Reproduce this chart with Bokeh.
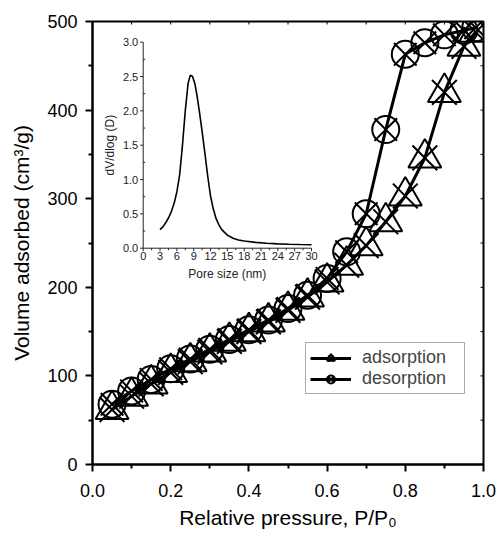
import math
from bokeh.plotting import figure
from bokeh.models import Range1d, FixedTicker, Legend, LegendItem, PrintfTickFormatter
from bokeh.core.properties import value
from bokeh.embed import file_html
from bokeh.resources import INLINE

# ---- data ----
P_ads = [0.05, 0.10, 0.15, 0.20, 0.25, 0.30, 0.35, 0.40, 0.45, 0.50,
         0.55, 0.60, 0.65, 0.70, 0.75, 0.80, 0.85, 0.90, 0.95, 0.98]
V_ads = [62, 77, 91, 104, 116, 127, 139, 150, 161, 174,
         189, 206, 225, 247, 274, 303, 346, 420, 472, 488]
P_des = [0.05, 0.10, 0.15, 0.20, 0.25, 0.30, 0.35, 0.40, 0.45, 0.50,
         0.55, 0.60, 0.65, 0.70, 0.75, 0.80, 0.85, 0.90, 0.95, 0.98]
V_des = [68, 83, 96, 108, 119, 130, 141, 152, 163, 176,
         191, 210, 240, 283, 378, 463, 476, 485, 490, 493]

pore_size = [3.0, 3.5, 4.0, 4.5, 5.0, 5.5, 6.0, 6.5, 7.0, 7.5, 8.0, 8.4, 8.8,
             9.2, 9.6, 10.0, 10.5, 11.0, 11.5, 12.0, 12.5, 13.0, 13.5, 14.0,
             15.0, 16.0, 17.0, 18.0, 20.0, 22.0, 24.0, 26.0, 28.0, 30.0]
dv_dlog = [0.27, 0.31, 0.37, 0.44, 0.53, 0.65, 0.82, 1.07, 1.50, 2.00, 2.40, 2.52, 2.50,
           2.40, 2.22, 2.00, 1.70, 1.38, 1.05, 0.76, 0.57, 0.43, 0.34, 0.27,
           0.19, 0.145, 0.12, 0.105, 0.085, 0.072, 0.063, 0.057, 0.053, 0.05]

main_xticks = [0.0, 0.2, 0.4, 0.6, 0.8, 1.0]
main_xminor = [0.1, 0.3, 0.5, 0.7, 0.9]
main_yticks = [0, 100, 200, 300, 400, 500]
main_yminor = [50, 150, 250, 350, 450]
inset_xticks = [0, 3, 6, 9, 12, 15, 18, 21, 24, 27, 30]
inset_yticks = [0.0, 0.5, 1.0, 1.5, 2.0, 2.5, 3.0]
inset_xlabel = "Pore size (nm)"
inset_ylabel = "dV/dlog (D)"

FONT = "Liberation Sans"
INK = "#222222"

# ---- layout constants ----
FRAME_W, FRAME_H = 391, 443
# inset frame position in pixels, measured from the main frame's top-left corner
IN_LEFT_PX, IN_RIGHT_PX, IN_TOP_PX, IN_BOTTOM_PX = 50.7, 219.0, 20.7, 226.7
IN_L = IN_LEFT_PX / FRAME_W
IN_R = IN_RIGHT_PX / FRAME_W
IN_T = 1 - IN_TOP_PX / FRAME_H
IN_B = 1 - IN_BOTTOM_PX / FRAME_H

ix_lo, ix_hi = inset_xticks[0], inset_xticks[-1]
iy_lo, iy_hi = inset_yticks[0], inset_yticks[-1]
ix_span = (ix_hi - ix_lo) / (IN_R - IN_L)
iy_span = (iy_hi - iy_lo) / (IN_T - IN_B)
ix_start = ix_lo - IN_L * ix_span
iy_start = iy_lo - IN_B * iy_span
ux = ix_span / FRAME_W   # inset x units per pixel
uy = iy_span / FRAME_H   # inset y units per pixel

x_lo, x_hi = main_xticks[0], main_xticks[-1]
y_lo, y_hi = main_yticks[0], main_yticks[-1]
mux = (x_hi - x_lo) / FRAME_W
muy = (y_hi - y_lo) / FRAME_H

# ---- main figure ----
p = figure(width=497, height=536, x_range=Range1d(x_lo, x_hi), y_range=Range1d(y_lo, y_hi),
           output_backend="svg", toolbar_location=None,
           min_border_left=92, min_border_right=14, min_border_top=21, min_border_bottom=72,
           outline_line_color="black", outline_line_width=2,
           background_fill_color="white", border_fill_color="white")
p.grid.visible = False
p.extra_x_ranges = {"ins_x": Range1d(ix_start, ix_start + ix_span)}
p.extra_y_ranges = {"ins_y": Range1d(iy_start, iy_start + iy_span)}

xa = p.xaxis[0]
ya = p.yaxis[0]
xa.ticker = FixedTicker(ticks=main_xticks, minor_ticks=main_xminor)
ya.ticker = FixedTicker(ticks=main_yticks, minor_ticks=main_yminor)
xa.formatter = PrintfTickFormatter(format="%.1f")
xa.axis_label = "Relative pressure, P/P\u2080"
ya.axis_label = "Volume adsorbed (cm\u00b3/g)"
for ax in (xa, ya):
    ax.axis_line_width = 2
    ax.major_tick_line_width = 2
    ax.minor_tick_line_width = 2
    ax.major_tick_out = 7
    ax.major_tick_in = 0
    ax.minor_tick_out = 4
    ax.minor_tick_in = 0
    ax.major_label_text_font = FONT
    ax.major_label_text_font_size = "18px"
    ax.major_label_text_color = "black"
    ax.axis_label_text_font = FONT
    ax.axis_label_text_font_size = "21px"
    ax.axis_label_text_font_style = "normal"
    ax.axis_label_text_color = "black"
ya.major_label_standoff = 8
ya.axis_label_standoff = 11
xa.major_label_standoff = 12
xa.axis_label_standoff = 6

# small inward ticks on the top and right frame edges
top_ticks = sorted(main_xticks + main_xminor)
right_ticks = sorted(main_yticks + main_yminor)
p.segment(x0=top_ticks, y0=[y_hi] * len(top_ticks), x1=top_ticks,
          y1=[y_hi - 3 * muy] * len(top_ticks), line_color="black", line_width=1)
p.segment(x0=[x_hi] * len(right_ticks), y0=right_ticks, x1=[x_hi - 3 * mux] * len(right_ticks),
          y1=right_ticks, line_color="black", line_width=1)

# ---- inset (drawn on its own ranges inside the main frame) ----
R = dict(x_range_name="ins_x", y_range_name="ins_y")
p.segment(x0=[ix_lo, ix_lo], y0=[iy_lo, iy_lo], x1=[ix_hi, ix_lo], y1=[iy_lo, iy_hi],
          line_color=INK, line_width=1, **R)
p.segment(x0=inset_xticks, y0=[iy_lo] * len(inset_xticks), x1=inset_xticks,
          y1=[iy_lo - 3 * uy] * len(inset_xticks), line_color=INK, line_width=1, **R)
x_minor = [(a + b) / 2 for a, b in zip(inset_xticks[:-1], inset_xticks[1:])]
p.segment(x0=x_minor, y0=[iy_lo] * len(x_minor), x1=x_minor,
          y1=[iy_lo - 2 * uy] * len(x_minor), line_color=INK, line_width=1, **R)
p.segment(x0=[ix_lo] * len(inset_yticks), y0=inset_yticks,
          x1=[ix_lo - 3 * ux] * len(inset_yticks), y1=inset_yticks,
          line_color=INK, line_width=1, **R)
y_minor = [(a + b) / 2 for a, b in zip(inset_yticks[:-1], inset_yticks[1:])]
p.segment(x0=[ix_lo] * len(y_minor), y0=y_minor,
          x1=[ix_lo + 2 * ux] * len(y_minor), y1=y_minor,
          line_color=INK, line_width=1, **R)
p.text(x=inset_xticks, y=[iy_lo] * len(inset_xticks), text=[str(t) for t in inset_xticks],
       y_offset=4, text_align="center", text_baseline="top",
       text_font=value(FONT), text_font_size="11px", text_color=INK, **R)
p.text(x=[ix_lo] * len(inset_yticks), y=inset_yticks, text=[f"{t:.1f}" for t in inset_yticks],
       x_offset=-5, text_align="right", text_baseline="middle",
       text_font=value(FONT), text_font_size="11px", text_color=INK, **R)
p.text(x=[(ix_lo + ix_hi) / 2], y=[iy_lo], text=[inset_xlabel], y_offset=19,
       text_align="center", text_baseline="top",
       text_font=value(FONT), text_font_size="12px", text_color=INK, **R)
p.text(x=[ix_lo], y=[(iy_lo + iy_hi) / 2], text=[inset_ylabel], x_offset=-33,
       angle=math.pi / 2, text_align="center", text_baseline="middle",
       text_font=value(FONT), text_font_size="12px", text_color=INK, **R)
p.line(pore_size, dv_dlog, line_width=1.6, line_color="black", **R)

# ---- isotherms ----
la = p.line(P_ads, V_ads, line_width=3, line_color="black")
ld = p.line(P_des, V_des, line_width=3, line_color="black")
ta = p.scatter(P_ads, V_ads, marker="triangle", size=33, fill_color=None,
               line_color="black", line_width=2)
xa_m = p.scatter(P_ads, V_ads, marker="x", size=35, line_color="black", line_width=2)
cd = p.scatter(P_des, V_des, marker="circle", size=27, fill_color=None,
               line_color="black", line_width=2)
xd_m = p.scatter(P_des, V_des, marker="x", size=32, line_color="black", line_width=2)

legend = Legend(items=[LegendItem(label="adsorption", renderers=[la, ta, xa_m]),
                       LegendItem(label="desorption", renderers=[ld, cd, xd_m])],
                location=(213, 70), margin=0, padding=4, spacing=0,
                glyph_width=41, glyph_height=20, label_height=20, label_width=98,
                label_standoff=11,
                label_text_font=FONT, label_text_font_size="18px",
                border_line_color="#555555", border_line_width=1,
                background_fill_color="white", background_fill_alpha=1)
p.add_layout(legend, "center")

open("out.html", "w").write(file_html(p, INLINE))
